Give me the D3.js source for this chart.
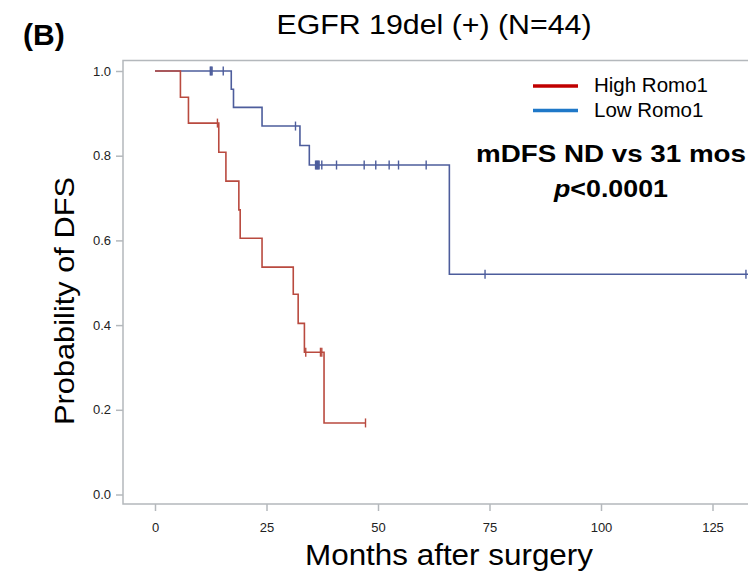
<!DOCTYPE html>
<html>
<head>
<meta charset="utf-8">
<script src="https://cdn.jsdelivr.net/npm/d3@7"></script>
<style>
body { margin: 0; background: #fff; }
svg { display: block; font-family: "Liberation Sans", Arial, sans-serif; }
.axis text { font-size: 13px; fill: #222; }
.axis line { stroke: #b4b8bc; stroke-width: 1.5; }
</style>
</head>
<body>
<svg id="chart" width="748" height="575"></svg>
<script>
// Kaplan-Meier steps
const highTimes = [0, 5.7, 7.5, 14.3, 15.9, 18.8, 19.1, 24.0, 31.0, 32.1, 33.5, 37.9];
const highSurv = [1.0, 0.938, 0.877, 0.808, 0.740, 0.672, 0.605, 0.537, 0.473, 0.404, 0.336, 0.169];
const highCensor = [14.0, 33.8, 37.1, 37.4, 47.2];
const highEnd = 47.2;

const lowTimes = [0, 17.1, 17.6, 24.0, 32.5, 34.6, 66.0];
const lowSurv = [1.0, 0.957, 0.914, 0.870, 0.824, 0.778, 0.52];
const lowCensor = [12.4, 12.6, 12.8, 15.3, 31.5, 36.0, 36.2, 36.4, 36.6, 36.8, 37.4, 40.7, 46.9, 49.5, 52.5, 54.6, 60.8, 74.0, 132.5];
const lowEnd = 134;

const xTicks = [0, 25, 50, 75, 100, 125];
const yTicks = [0, 0.2, 0.4, 0.6, 0.8, 1.0];
const groups = ["High Romo1", "Low Romo1"];

const svg = d3.select("#chart");
const W = +svg.attr("width");

const x = d3.scaleLinear().domain([0, 125]).range([155, 712.5]);
const y = d3.scaleLinear().domain([0, 1]).range([494.5, 71]);
const frame = {left: 123, top: 60.5, bottom: 504};

// frame lines
svg.append("path")
	.attr("d", "M" + W + "," + frame.top + "H" + frame.left + "V" + frame.bottom + "H" + W)
	.attr("fill", "none")
	.attr("stroke", "#b4b8bc")
	.attr("stroke-width", 1.5);

svg.append("g")
	.attr("class", "axis")
	.attr("transform", "translate(0," + frame.bottom + ")")
	.call(d3.axisBottom(x).tickValues(xTicks).tickSize(7).tickPadding(12))
	.call(g => g.select(".domain").remove());

svg.append("g")
	.attr("class", "axis")
	.attr("transform", "translate(" + frame.left + ",0)")
	.call(d3.axisLeft(y).tickValues(yTicks).tickFormat(d3.format(".1f")).tickSize(7).tickPadding(5))
	.call(g => g.select(".domain").remove());

// curves
svg.append("clipPath").attr("id", "clip")
	.append("rect").attr("x", frame.left).attr("y", 0).attr("width", W - frame.left).attr("height", frame.bottom);

const plot = svg.append("g").attr("clip-path", "url(#clip)");

function stepData(times, surv, end) {
	let pts = times.map((t, i) => [t, surv[i]]);
	pts.push([end, surv[surv.length - 1]]);
	return pts;
}
function survAt(times, surv, t) {
	let v = surv[0];
	times.forEach((tt, i) => { if (tt <= t) v = surv[i]; });
	return v;
}

const line = d3.line().x(d => x(d[0])).y(d => y(d[1])).curve(d3.curveStepAfter);

function drawCurve(times, surv, censor, end, color) {
	plot.append("path")
		.attr("d", line(stepData(times, surv, end)))
		.attr("fill", "none")
		.attr("stroke", color)
		.attr("stroke-width", 1.6);
	plot.selectAll(null)
		.data(censor)
		.enter().append("line")
		.attr("x1", d => x(d)).attr("x2", d => x(d))
		.attr("y1", d => y(survAt(times, surv, d)) - 4.5)
		.attr("y2", d => y(survAt(times, surv, d)) + 4.5)
		.attr("stroke", color)
		.attr("stroke-width", 1.4);
}

drawCurve(lowTimes, lowSurv, lowCensor, lowEnd, "#4d5d9c");
drawCurve(highTimes, highSurv, highCensor, highEnd, "#b94a3f");

// legend
const legendColors = ["#c00000", "#1f78c8"];
const legend = svg.append("g");
groups.forEach((g, i) => {
	const ly = 86 + i * 24.5;
	legend.append("line")
		.attr("x1", 533).attr("x2", 578)
		.attr("y1", ly).attr("y2", ly)
		.attr("stroke", legendColors[i])
		.attr("stroke-width", 3.4);
	legend.append("text")
		.attr("x", 594).attr("y", ly + 6)
		.style("font-size", "20.5px")
		.text(g);
});

// annotation
svg.append("text")
	.attr("x", 611).attr("y", 162)
	.attr("text-anchor", "middle")
	.attr("textLength", 270)
	.attr("lengthAdjust", "spacingAndGlyphs")
	.style("font-size", "23px")
	.style("font-weight", "bold")
	.text("mDFS ND vs 31 mos");

const pt = svg.append("text")
	.attr("x", 611).attr("y", 197)
	.attr("text-anchor", "middle")
	.attr("textLength", 114)
	.attr("lengthAdjust", "spacingAndGlyphs")
	.style("font-size", "23px")
	.style("font-weight", "bold");
pt.append("tspan").style("font-style", "italic").text("p");
pt.append("tspan").text("<0.0001");

// titles
svg.append("text")
	.attr("x", 23).attr("y", 44.5)
	.style("font-size", "30px")
	.style("font-weight", "bold")
	.text("(B)");

svg.append("text")
	.attr("x", 434).attr("y", 33.5)
	.attr("text-anchor", "middle")
	.attr("textLength", 315)
	.attr("lengthAdjust", "spacingAndGlyphs")
	.style("font-size", "28px")
	.text("EGFR 19del (+) (N=44)");

svg.append("text")
	.attr("transform", "translate(73.5,301) rotate(-90)")
	.attr("text-anchor", "middle")
	.attr("textLength", 248)
	.attr("lengthAdjust", "spacingAndGlyphs")
	.style("font-size", "28px")
	.text("Probability of DFS");

svg.append("text")
	.attr("x", 449).attr("y", 565)
	.attr("text-anchor", "middle")
	.attr("textLength", 288)
	.attr("lengthAdjust", "spacingAndGlyphs")
	.style("font-size", "30px")
	.text("Months after surgery");
</script>
</body>
</html>
